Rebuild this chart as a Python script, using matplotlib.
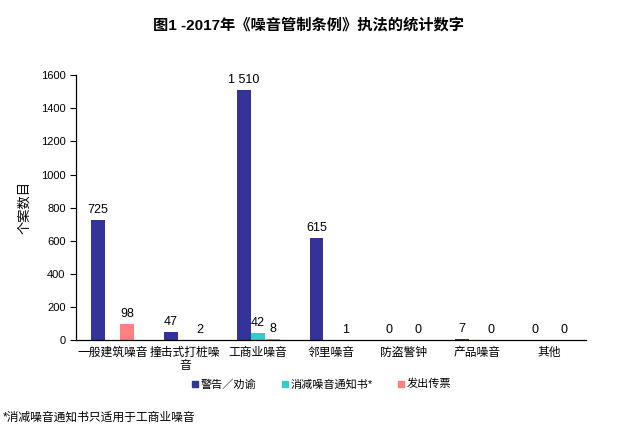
import numpy as np
import matplotlib.pyplot as plt
from matplotlib.lines import Line2D

plt.rcParams['font.family'] = ['Liberation Sans', 'Noto Sans CJK SC', 'DejaVu Sans']

categories = ["一般建筑噪音", "撞击式打桩噪\n音", "工商业噪音", "邻里噪音", "防盗警钟", "产品噪音", "其他"]
series_names = ["警告／劝谕", "消减噪音通知书*", "发出传票"]
warnings = [725, 47, 1510, 615, 0, 7, 0]
abatement = [np.nan, np.nan, 42, np.nan, np.nan, np.nan, np.nan]
summons = [98, 2, 8, 1, 0, 0, 0]
colors = ["#333399", "#33CCCC", "#FF8080"]

fig = plt.figure(figsize=(6.17, 4.34), dpi=100)
ax = fig.add_axes([0.1232, 0.2166, 0.8266, 0.61])

x = np.arange(len(categories))
w = 0.19
step = 0.2
for k, (vals, col) in enumerate(zip([warnings, abatement, summons], colors)):
    pos = x + (k - 1) * step
    ax.bar(pos, vals, width=w, color=col, zorder=2)
    for p, v in zip(pos, vals):
        if np.isnan(v):
            continue
        txt = f"{int(v):,}".replace(",", " ")
        ax.text(p, v + 25, txt, ha="center", va="bottom", fontsize=9)

ax.set_xlim(-0.5, len(categories) - 0.5)
ax.set_ylim(0, 1600)
ax.set_yticks(range(0, 1601, 200))
ax.tick_params(axis="y", labelsize=8, length=4, direction="out", width=0.8)
ax.tick_params(axis="x", length=0, labelsize=8.5, pad=5)
ax.set_xticks(x)
ax.set_xticklabels(categories, linespacing=1.1)
for s in ["top", "right"]:
    ax.spines[s].set_visible(False)
ax.spines["left"].set_linewidth(0.9)
ax.spines["bottom"].set_linewidth(0.9)

ax.set_ylabel("个案数目", fontsize=9.5, labelpad=7)

fig.text(0.5, 0.942, "图1 -2017年《噪音管制条例》执法的统计数字", ha="center", va="center",
         fontsize=11, fontweight="bold")

handles = [Line2D([], [], marker="s", linestyle="none", color=c, markersize=4) for c in colors]
fig.legend(handles, series_names, loc="center", bbox_to_anchor=(0.52, 0.115), ncol=3,
           frameon=False, fontsize=8, handletextpad=0.1, columnspacing=2.2, handlelength=0.8)

fig.text(0.005, 0.038, "*消减噪音通知书只适用于工商业噪音", ha="left", va="center", fontsize=8.5)

fig.savefig("out.png", dpi=100)
